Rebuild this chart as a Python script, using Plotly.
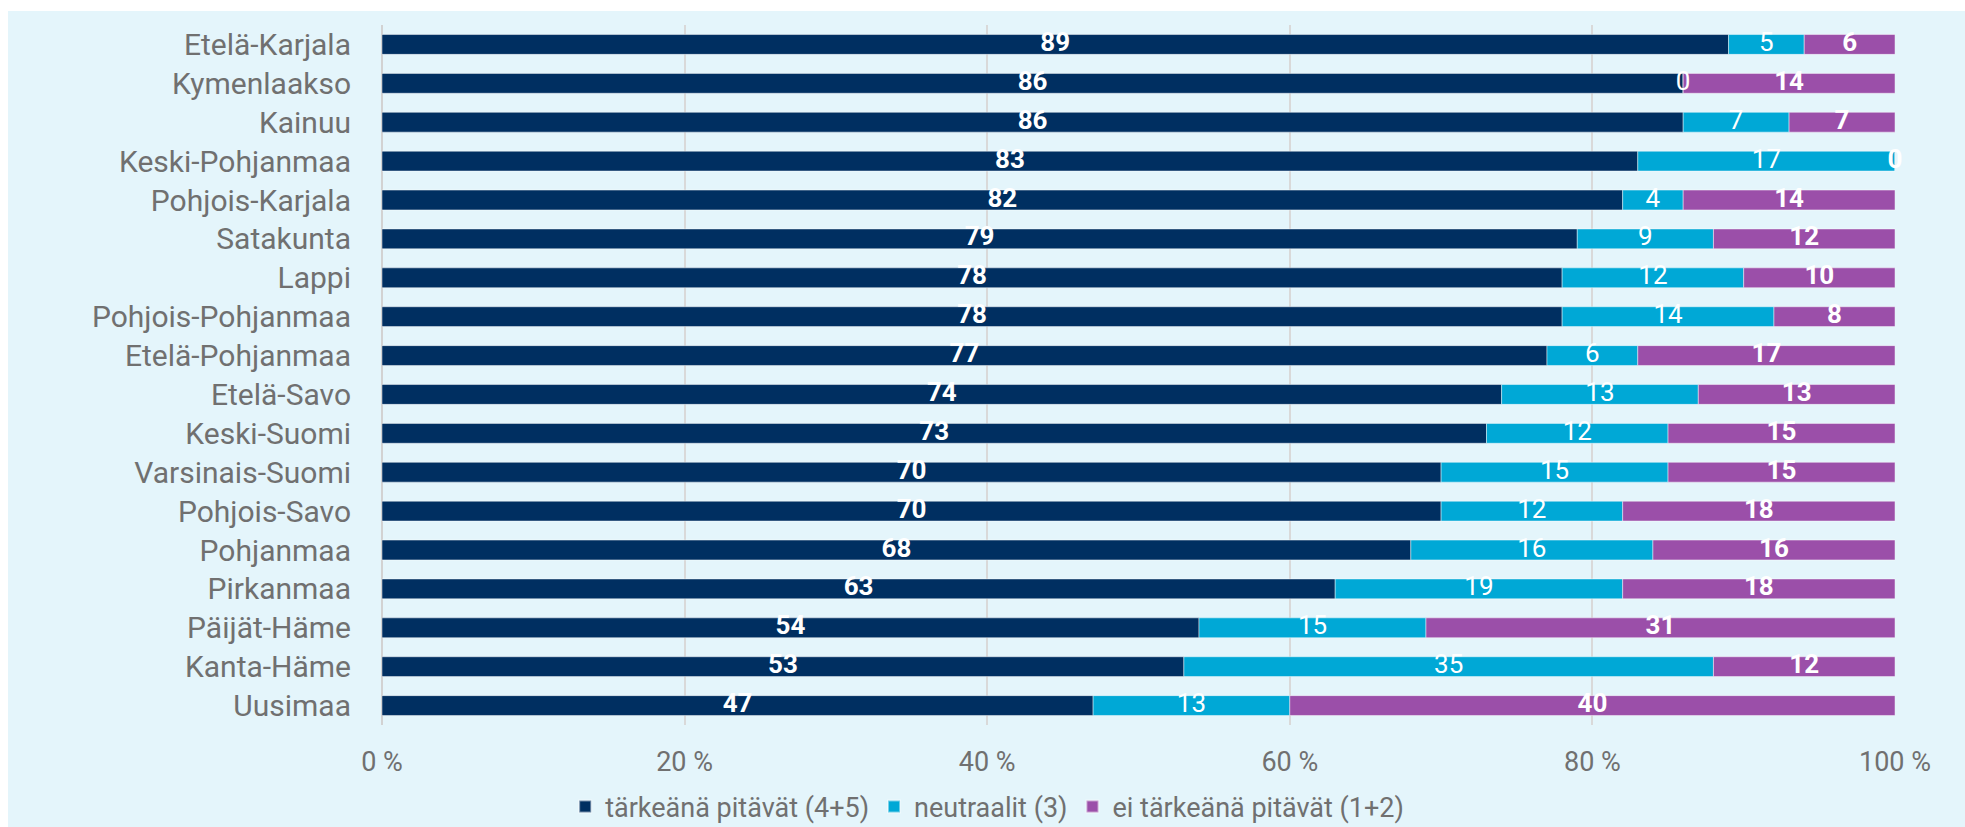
import plotly.graph_objects as go

regions = ["Etelä-Karjala", "Kymenlaakso", "Kainuu", "Keski-Pohjanmaa", "Pohjois-Karjala",
           "Satakunta", "Lappi", "Pohjois-Pohjanmaa", "Etelä-Pohjanmaa", "Etelä-Savo",
           "Keski-Suomi", "Varsinais-Suomi", "Pohjois-Savo", "Pohjanmaa", "Pirkanmaa",
           "Päijät-Häme", "Kanta-Häme", "Uusimaa"]
important = [89, 86, 86, 83, 82, 79, 78, 78, 77, 74, 73, 70, 70, 68, 63, 54, 53, 47]
neutral = [5, 0, 7, 17, 4, 9, 12, 14, 6, 13, 12, 15, 12, 16, 19, 15, 35, 13]
not_important = [6, 14, 7, 0, 14, 12, 10, 8, 17, 13, 15, 15, 18, 16, 18, 31, 12, 40]

series_names = ["tärkeänä pitävät (4+5)", "neutraalit (3)", "ei tärkeänä pitävät (1+2)"]
tick_vals = [0, 20, 40, 60, 80, 100]
tick_text = ["0 %", "20 %", "40 %", "60 %", "80 %", "100 %"]

colors = ["#002F61", "#00A8D6", "#9B4FA9"]
bold = [True, False, True]
BG = "#E4F5FB"
GRAY = "#707070"
FONT = "Roboto"

W, H = 1965, 827
L, R, T, B = 382, W - 1895, 25, H - 725
PW, PH = W - L - R, H - T - B

fig = go.Figure()
series = [important, neutral, not_important]
base = [0] * len(regions)
for name, vals, col, bd in zip(series_names, series, colors, bold):
    fig.add_trace(go.Bar(
        y=regions, x=vals, base=base, name=name, orientation="h",
        marker=dict(color=col, line=dict(color="rgba(255,255,255,0.45)", width=1)),
        hoverinfo="skip",
    ))
    mids = [b + v / 2 for b, v in zip(base, vals)]
    fig.add_trace(go.Scatter(
        y=regions, x=mids, mode="text", text=[str(v) for v in vals],
        textposition="middle center", showlegend=False, cliponaxis=False,
        textfont=dict(family=FONT, size=26, color="white",
                      weight="bold" if bd else "normal"),
        hoverinfo="skip",
    ))
    base = [b + v for b, v in zip(base, vals)]

fig.update_layout(
    template="none",
    width=W, height=H,
    margin=dict(l=L, r=R, t=T, b=B, autoexpand=False),
    barmode="overlay",
    bargap=0.49,
    paper_bgcolor=BG,
    plot_bgcolor=BG,
    font=dict(family=FONT, color=GRAY),
    xaxis=dict(range=[0, 100], tickvals=tick_vals, ticktext=tick_text, automargin=False,
               showgrid=True, gridcolor="#D9D9D9", gridwidth=2, showline=False,
               zeroline=True, zerolinecolor="#D2D2D2", zerolinewidth=2,
               tickfont=dict(family=FONT, size=27, color=GRAY),
               ticks="", ticklabelstandoff=18, fixedrange=True),
    yaxis=dict(categoryorder="array", categoryarray=regions,
               range=[len(regions) - 0.5, -0.5], autorange=False,
               automargin=False, showline=False,
               showgrid=False, zeroline=False, ticks="",
               tickfont=dict(family=FONT, size=30, color=GRAY),
               ticklabelstandoff=30, fixedrange=True),
    legend=dict(orientation="h", x=0.40, xanchor="center", y=-0.117, yanchor="middle",
                font=dict(family=FONT, size=27, color=GRAY),
                bgcolor="rgba(0,0,0,0)", itemsizing="constant", traceorder="normal"),
    shapes=[
        dict(type="rect", xref="paper", yref="paper",
             x0=-L / PW - 0.01, x1=1 + R / PW + 0.01,
             y0=1 + (T - 11) / PH, y1=1 + T / PH + 0.01,
             fillcolor="white", line=dict(width=0), layer="below"),
        dict(type="rect", xref="paper", yref="paper",
             x0=-L / PW - 0.01, x1=-(L - 8) / PW,
             y0=-B / PH - 0.01, y1=1 + T / PH + 0.01,
             fillcolor="white", line=dict(width=0), layer="below"),
    ],
)

fig.write_html("out.html",
               config={"displayModeBar": False},
               post_script="document.body.style.margin='0px';"
                           "document.documentElement.style.overflow='hidden';")
